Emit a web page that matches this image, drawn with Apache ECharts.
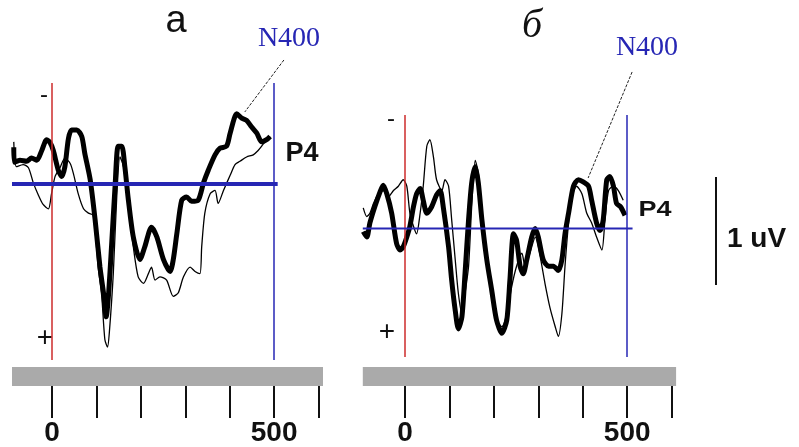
<!DOCTYPE html>
<html><head><meta charset="utf-8">
<script src="https://cdn.jsdelivr.net/npm/echarts@6/dist/echarts.min.js"></script>
<style>html,body{margin:0;padding:0;background:#fff}#c{width:799px;height:447px}</style>
</head><body><div id="c"></div>
<script>
// time (ms), amplitude (uV, positive plotted downward)
const thickA = [[-86,-0.34],[-85,-0.20],[-72,-0.22],[-57,-0.21],[-46,-0.24],[-34,-0.22],[-23,-0.31],[-12,-0.41],[-4,-0.38],[3,-0.31],[14,-0.13],[22,-0.07],[29,-0.16],[37,-0.42],[44,-0.50],[56,-0.50],[67,-0.44],[74,-0.28],[86,-0.04],[97,0.33],[108,0.77],[116,1.01],[122,1.23],[127,1.04],[134,0.58],[142,0.02],[149,-0.35],[157,-0.35],[164,-0.16],[172,0.15],[183,0.49],[198,0.70],[209,0.58],[224,0.40],[236,0.49],[251,0.70],[266,0.81],[273,0.70],[281,0.46],[292,0.15],[303,0.12],[314,0.16],[329,0.15],[341,-0.01],[352,-0.13],[367,-0.27],[378,-0.33],[393,-0.35],[401,-0.47],[416,-0.65],[427,-0.61],[438,-0.59],[449,-0.53],[461,-0.47],[472,-0.39],[483,-0.41],[491,-0.44]];
const thinA = [[-86,-0.39],[-80,-0.16],[-65,-0.18],[-53,-0.15],[-42,-0.01],[-31,0.10],[-20,0.19],[-8,0.23],[-1,0.09],[7,-0.07],[18,-0.15],[29,-0.24],[41,-0.19],[48,-0.10],[59,0.09],[71,0.23],[82,0.27],[93,0.29],[104,0.77],[112,1.04],[119,1.44],[125,1.51],[129,1.38],[138,0.83],[146,0.10],[153,-0.25],[161,-0.16],[172,0.21],[183,0.58],[194,0.86],[206,0.92],[217,0.83],[224,0.77],[232,0.89],[243,0.86],[258,0.89],[273,1.04],[284,1.01],[296,0.86],[311,0.77],[322,0.81],[333,0.83],[337,0.58],[344,0.27],[356,0.09],[367,0.06],[374,0.18],[386,0.06],[401,-0.08],[412,-0.18],[423,-0.21],[438,-0.25],[453,-0.27],[464,-0.31],[472,-0.35],[479,-0.39],[491,-0.44]];
const thickB = [[-94,0.03],[-86,0.08],[-79,-0.05],[-68,-0.20],[-56,-0.34],[-49,-0.40],[-41,-0.32],[-30,-0.14],[-19,0.14],[-11,0.20],[-4,0.17],[4,0.08],[11,-0.02],[19,-0.20],[26,-0.32],[34,-0.37],[41,-0.26],[49,-0.14],[60,-0.20],[71,-0.31],[79,-0.35],[86,-0.20],[98,0.17],[105,0.48],[113,0.76],[120,0.93],[128,0.82],[135,0.42],[143,-0.08],[150,-0.42],[158,-0.57],[165,-0.42],[173,-0.08],[184,0.29],[195,0.57],[206,0.85],[218,0.97],[229,0.85],[236,0.48],[244,0.05],[251,0.11],[259,0.35],[266,0.42],[274,0.29],[285,0.08],[293,0.00],[300,0.08],[311,0.29],[323,0.35],[334,0.35],[345,0.39],[353,0.29],[360,0.05],[368,-0.14],[379,-0.39],[390,-0.45],[401,-0.43],[413,-0.39],[420,-0.26],[431,-0.05],[439,0.02],[446,-0.08],[454,-0.45],[461,-0.48],[469,-0.39],[476,-0.23],[485,-0.20],[495,-0.12]];
const thinB = [[-94,-0.19],[-86,-0.11],[-79,-0.14],[-71,-0.23],[-60,-0.32],[-49,-0.35],[-38,-0.29],[-26,-0.35],[-15,-0.39],[-4,-0.45],[4,-0.39],[11,-0.14],[19,-0.02],[26,0.05],[34,-0.14],[41,-0.39],[49,-0.76],[56,-0.82],[64,-0.66],[71,-0.45],[83,-0.35],[90,-0.45],[98,-0.39],[105,-0.08],[113,0.29],[120,0.60],[128,0.79],[135,0.60],[143,0.35],[150,-0.20],[158,-0.63],[165,-0.51],[173,-0.14],[184,0.23],[195,0.60],[206,0.85],[218,0.91],[229,0.79],[240,0.54],[251,0.35],[263,0.23],[270,0.35],[281,0.23],[293,0.08],[304,0.26],[315,0.51],[326,0.73],[338,0.91],[345,1.00],[353,0.79],[360,0.35],[368,-0.05],[375,-0.29],[386,-0.39],[398,-0.32],[409,-0.14],[420,-0.05],[431,0.08],[443,0.20],[450,-0.08],[458,-0.35],[469,-0.39],[480,-0.35],[491,-0.26]];
const baselineA = [[-90,0],[508,0]];
const baselineB = [[-95,0],[512,0]];
const leaderA = [[522,-1.148],[434,-0.667]];
const leaderB = [[511,-1.447],[412,-0.466]];
const scaleBar = [[0,-0.5],[0,0.5]];   // 1 uV calibration
const onsetTime = 0, endTime = 500;
const tickValues = [0,100,200,300,400,500,600];
const tickLabels = [0,500];
const panelTitles = ['а','б'];
const componentLabel = 'N400';
const channel = 'P4';
const scaleLabel = '1 uV';

const RED = '#cc2b2b', BLUE = '#2626b4';
const chart = echarts.init(document.getElementById('c'));

function wave(data, xi, width, z){
  return {type:'line', xAxisIndex:xi, yAxisIndex:xi, data:data, symbol:'none', smooth:0.25,
    lineStyle:{color:'#000', width:width}, z:z, silent:true};
}
function refs(base, xi, bw){
  return {type:'line', xAxisIndex:xi, yAxisIndex:xi, data:base, symbol:'none',
    lineStyle:{color:BLUE, width:bw}, z:5, silent:true,
    markLine:{symbol:'none', silent:true, label:{show:false}, animation:false,
      data:[{xAxis:onsetTime, lineStyle:{color:RED, width:1.5, type:'solid'}},
            {xAxis:endTime, lineStyle:{color:BLUE, width:1.5, type:'solid'}}]}};
}
function leader(data, xi){
  return {type:'line', xAxisIndex:xi, yAxisIndex:xi, data:data, symbol:'none', clip:false,
    lineStyle:{color:'#222', width:1, type:[3,1.5]}, z:6, silent:true};
}
const barAxis = (gi, min) => ({gridIndex:gi, type:'value', min:min, max:610,
  axisLine:{show:false}, splitLine:{show:false},
  axisTick:{show:true, length:32, customValues:tickValues, lineStyle:{color:'#111', width:2}},
  axisLabel:{show:true, customValues:tickLabels, margin:33, color:'#111', fontSize:28, fontWeight:'bold', fontFamily:'Liberation Sans'}});

const txt = (t, x, y, font, fill, extra) => Object.assign({type:'text', x:x, y:y,
  style:{text:t, font:font, fill:fill, align:'center', verticalAlign:'middle'}}, extra||{});

chart.setOption({
  animation:false,
  backgroundColor:'#fff',
  grid:[
    {left:12, top:83, width:311, height:277},
    {left:362.8, top:115, width:313.3, height:242},
    {left:12, top:367, width:311, height:28, show:true, backgroundColor:'#aaaaaa', borderWidth:0},
    {left:362.8, top:367, width:313.3, height:28, show:true, backgroundColor:'#aaaaaa', borderWidth:0},
    {left:716, top:177, width:10, height:108}
  ],
  xAxis:[
    {gridIndex:0, type:'value', min:-90, max:610, show:false},
    {gridIndex:1, type:'value', min:-95, max:610, show:false},
    barAxis(2,-90), barAxis(3,-95),
    {gridIndex:4, type:'value', min:0, max:1, show:false}
  ],
  yAxis:[
    {gridIndex:0, type:'value', inverse:true, min:-0.935, max:1.63, show:false},
    {gridIndex:1, type:'value', inverse:true, min:-1.049, max:1.19, show:false},
    {gridIndex:2, type:'value', min:0, max:1, show:false},
    {gridIndex:3, type:'value', min:0, max:1, show:false},
    {gridIndex:4, type:'value', min:-0.5, max:0.5, show:false}
  ],
  series:[
    wave(thinA,0,1.3,2), wave(thickA,0,5,3), refs(baselineA,0,4), leader(leaderA,0),
    wave(thinB,1,1.3,2), wave(thickB,1,5,3), refs(baselineB,1,2), leader(leaderB,1),
    {type:'line', xAxisIndex:4, yAxisIndex:4, data:scaleBar, symbol:'none', clip:false,
      lineStyle:{color:'#111', width:2}, silent:true}
  ],
  graphic:[
    txt(panelTitles[0], 176, 22, '38px "Liberation Sans"', '#111'),
    txt(panelTitles[1], 532, 26, 'italic 40px "Liberation Serif"', '#111'),
    txt(componentLabel, 289, 38.5, '28px "Liberation Serif"', BLUE),
    txt(componentLabel, 647, 47.5, '28px "Liberation Serif"', BLUE),
    txt(channel, 302, 153.5, 'bold 27px "Liberation Sans"', '#111'),
    txt(channel, 655, 209.5, 'bold 27px "Liberation Sans"', '#111', {scaleY:0.82}),
    txt('-', 44, 95, '24px "Liberation Sans"', '#111'),
    txt('+', 45, 338, '28px "Liberation Sans"', '#111'),
    txt('-', 391, 119, '24px "Liberation Sans"', '#111'),
    txt('+', 387, 332, '28px "Liberation Sans"', '#111'),
    {type:'text', x:727, y:239, style:{text:scaleLabel, font:'bold 28px "Liberation Sans"', fill:'#111', align:'left', verticalAlign:'middle'}}
  ]
});
</script></body></html>
